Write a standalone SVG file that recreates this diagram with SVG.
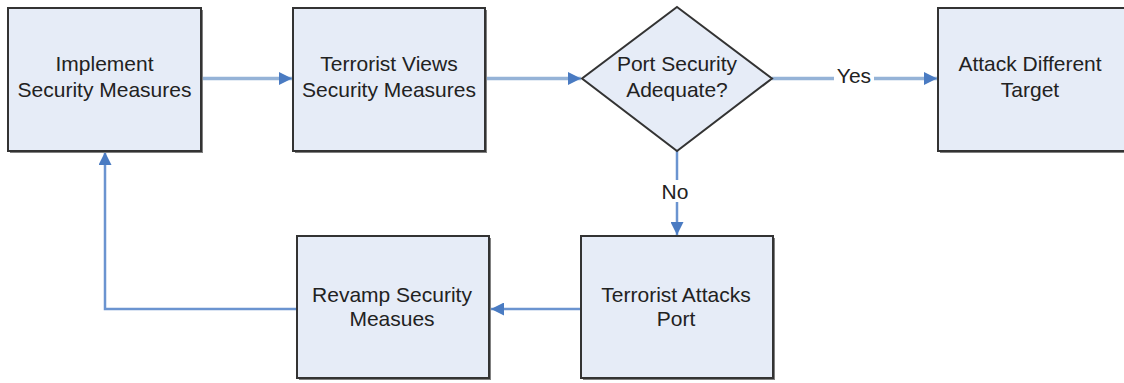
<svg xmlns="http://www.w3.org/2000/svg" width="1124" height="383" viewBox="0 0 1124 383">
<defs>
<style>
.box{fill:#e6ecf7;stroke:#333;stroke-width:2}
.sh{fill:#808080}
.t{font-family:"Liberation Sans",Arial,sans-serif;font-size:21px;fill:#222;text-anchor:middle}
.c1{fill:none;stroke:#95b3d7;stroke-width:3.5}
.c2{fill:none;stroke:#6b94d0;stroke-width:2.5}
.lbl{fill:#fff}
</style>
<marker id="ah" viewBox="0 0 10 10" refX="10" refY="5" markerUnits="userSpaceOnUse" markerWidth="15" markerHeight="13" orient="auto">
<path d="M0,0 L10,5 L0,10 z" fill="#4a7bc2"/>
</marker>
</defs>
<rect width="1124" height="383" fill="#fff"/>
<g id="connectors">
<path class="c1" d="M201,78.5 H292" marker-end="url(#ah)"/>
<path class="c1" d="M486,78.5 H581" marker-end="url(#ah)"/>
<path class="c1" d="M772,78.5 H937" marker-end="url(#ah)"/>
<path class="c2" d="M677,151 V235" marker-end="url(#ah)"/>
<path class="c2" d="M581,309 H491" marker-end="url(#ah)"/>
<path class="c2" d="M297,309 H105 V152" marker-end="url(#ah)"/>
<g id="label-yes"><rect class="lbl" x="834" y="66" width="40" height="20"/><text class="t" x="854" y="83">Yes</text></g>
<g id="label-no"><rect class="lbl" x="659" y="180" width="32" height="22"/><text class="t" x="675" y="199">No</text></g>
</g>
<g id="n1">
<rect class="sh" x="10" y="10" width="193" height="143"/>
<rect class="box" x="8" y="8" width="193" height="143"/>
<text class="t" x="104.5" y="71">Implement</text>
<text class="t" x="104.5" y="97">Security Measures</text>
</g>
<g id="n2">
<rect class="sh" x="295" y="10" width="192" height="143"/>
<rect class="box" x="293" y="8" width="192" height="143"/>
<text class="t" x="389" y="71">Terrorist Views</text>
<text class="t" x="389" y="97">Security Measures</text>
</g>
<g id="n3">
<polygon class="box" points="677,7 772,78.5 677,151 582,78.5"/>
<text class="t" x="677" y="71">Port Security</text>
<text class="t" x="677" y="97">Adequate?</text>
</g>
<g id="n4">
<rect class="sh" x="940" y="10" width="193" height="143"/>
<rect class="box" x="938" y="8" width="193" height="143"/>
<text class="t" x="1030" y="71">Attack Different</text>
<text class="t" x="1030" y="97">Target</text>
</g>
<g id="n5">
<rect class="sh" x="583" y="238" width="192" height="142"/>
<rect class="box" x="581" y="236" width="192" height="142"/>
<text class="t" x="676" y="302">Terrorist Attacks</text>
<text class="t" x="676" y="326">Port</text>
</g>
<g id="n6">
<rect class="sh" x="299" y="238" width="192" height="142"/>
<rect class="box" x="297" y="236" width="192" height="142"/>
<text class="t" x="392" y="302">Revamp Security</text>
<text class="t" x="392" y="326">Measues</text>
</g>
</svg>
